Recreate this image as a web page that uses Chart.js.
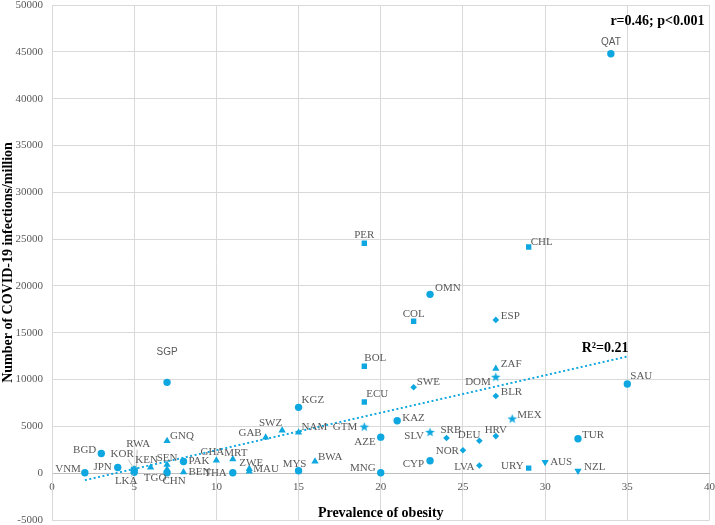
<!DOCTYPE html>
<html lang="en">
<head>
<meta charset="UTF-8">
<title>Obesity and COVID-19</title>
<script src="https://cdn.jsdelivr.net/npm/chart.js"></script>
<style>
  html, body { margin: 0; padding: 0; background: #fff; }
  #wrap { width: 715px; height: 525px; }
</style>
</head>
<body>
<div id="wrap"><canvas id="myChart"></canvas></div>
<script>
// values
const codes   = ['VNM','BGD','JPN','KOR','LKA','CHN','PAK','THA','SGP','MYS','KGZ','AZE','MNG','KAZ','CYP','OMN','QAT','SAU','TUR',
                 'RWA','GNQ','KEN','SEN','TGO','BEN','GHA','MRT','ZWE','MAU','GAB','SWZ','NAM','BWA','ZAF',
                 'PER','CHL','COL','BOL','ECU','URY',
                 'SWE','ESP','BLR','SRB','NOR','DEU','HRV','LVA',
                 'GTM','SLV','DOM','MEX',
                 'AUS','NZL'];
const obesity = [2,3,4,5,5,7,8,11,7,15,15,20,20,21,23,23,34,35,32,
                 5,7,6,7,7,8,10,11,12,12,13,14,15,16,27,
                 19,29,22,19,19,29,
                 22,27,27,24,25,26,27,26,
                 19,23,27,28,
                 30,32];
const cases   = [50,2100,600,400,100,50,1250,50,9700,260,7030,3850,50,5600,1330,19100,44800,9520,3680,
                 250,3450,610,900,400,100,1360,1500,470,180,3820,4570,4350,1250,11170,
                 24550,24150,16230,11420,7600,540,
                 9170,16370,8240,3750,2450,3470,3960,820,
                 4920,4350,10240,5780,
                 1180,260];
const region  = ['as','as','as','as','as','as','as','as','as','as','as','as','as','as','as','as','as','as','as',
                 'af','af','af','af','af','af','af','af','af','af','af','af','af','af','af',
                 'sa','sa','sa','sa','sa','sa',
                 'eu','eu','eu','eu','eu','eu','eu','eu',
                 'ca','ca','ca','ca',
                 'oc','oc'];
const trendX = [2, 35];
const trendY = [-740, 12460];

const blue = '#0ea7e0';

// filled five point star for the Central America markers
const star = document.createElement('canvas');
star.width = 11; star.height = 11;
(function () {
  const c = star.getContext('2d');
  c.fillStyle = blue;
  c.beginPath();
  for (let i = 0; i < 10; i++) {
    const r = i % 2 ? 2.1 : 5;
    const a = -Math.PI / 2 + i * Math.PI / 5;
    c.lineTo(5.5 + r * Math.cos(a), 5.5 + r * Math.sin(a));
  }
  c.closePath();
  c.fill();
})();

const markers = {
  as: { pointStyle: 'circle', radius: 3.7, rotation: 0 },
  af: { pointStyle: 'triangle', radius: 4.2, rotation: 0 },
  sa: { pointStyle: 'rect', radius: 3.8, rotation: 0 },
  eu: { pointStyle: 'rectRot', radius: 3.3, rotation: 0 },
  ca: { pointStyle: star, radius: 5, rotation: 0 },
  oc: { pointStyle: 'triangle', radius: 4.2, rotation: 180 }
};

// where each country label sits next to its marker: [align, dx, dy]
const labelPlace = {
  QAT:['center',0,-11], PER:['center',0,-8], CHL:['left',2,-5], OMN:['left',5,-6], COL:['center',0,-7],
  ESP:['left',5,-4], BOL:['left',0,-8], SWE:['left',3,-5], ZAF:['left',5,-4], DOM:['right',-5,5],
  BLR:['left',5,-4], SAU:['left',3,-8], MEX:['left',5,-4], SRB:['left',-6,-8], DEU:['right',1,-6],
  HRV:['center',0,-6], NOR:['right',-4,1], TUR:['left',4,-4], LVA:['right',-5,2], URY:['right',-5,-2],
  AUS:['left',5,0], NZL:['left',6,-4], CYP:['right',-6,3], SLV:['right',-6,4], KAZ:['left',5,-3],
  GTM:['right',-7,0], AZE:['right',-5,5], MNG:['right',-5,-5], ECU:['left',2,-8], KGZ:['left',3,-7],
  SWZ:['right',0,-7], NAM:['left',3,-5], BWA:['left',3,-4], MYS:['center',-4,-7], GAB:['right',-4,-4],
  ZWE:['center',2,-6], MAU:['left',4,-2], THA:['right',-6,0], MRT:['center',3,-6], GHA:['center',-4,-8],
  BEN:['left',5,0], PAK:['left',5,0], GNQ:['left',3,-5], SEN:['center',0,-7], KEN:['center',-4,-7],
  CHN:['center',7,8], TGO:['center',-12,9], LKA:['center',-8,9], KOR:['center',-12,-15], RWA:['center',4,-27],
  JPN:['right',-6,0], BGD:['right',-5,-3], VNM:['right',-4,-4], SGP:['center',0,-30]
};
const sansLabels = ['QAT', 'SGP'];
const leaders = { KOR: [-6,-10,-1,-2], RWA: [3,-21,2,-3], LKA: [-3,5,-1,2] };

const groups = ['as','af','sa','eu','ca','oc'];
const datasets = groups.map(g => {
  const pts = [];
  codes.forEach((c, i) => {
    if (region[i] === g) pts.push({ x: obesity[i], y: cases[i], code: c });
  });
  return {
    type: 'scatter',
    data: pts,
    backgroundColor: blue,
    borderColor: blue,
    borderWidth: 0,
    pointStyle: markers[g].pointStyle,
    pointRadius: markers[g].radius,
    rotation: markers[g].rotation,
    order: 1
  };
});
datasets.push({
  type: 'line',
  data: trendX.map((x, i) => ({ x: x, y: trendY[i] })),
  borderColor: blue,
  borderWidth: 2,
  borderDash: [2, 2.5],
  pointRadius: 0,
  fill: false,
  order: 2
});

const labelPlugin = {
  id: 'countryLabels',
  afterDatasetsDraw(chart) {
    const ctx = chart.ctx;
    ctx.save();
    ctx.textBaseline = 'middle';
    groups.forEach((g, di) => {
      const meta = chart.getDatasetMeta(di);
      meta.data.forEach((el, j) => {
        const code = chart.data.datasets[di].data[j].code;
        const p = labelPlace[code] || ['left', 5, -4];
        ctx.font = sansLabels.includes(code) ? '10px "Liberation Sans"' : '11px "Liberation Serif"';
        ctx.fillStyle = '#595959';
        ctx.textAlign = p[0];
        ctx.fillText(code, el.x + p[1], el.y + p[2]);
        const l = leaders[code];
        if (l) {
          ctx.strokeStyle = '#bfbfbf';
          ctx.lineWidth = 1;
          ctx.beginPath();
          ctx.moveTo(el.x + l[0], el.y + l[1]);
          ctx.lineTo(el.x + l[2], el.y + l[3]);
          ctx.stroke();
        }
      });
    });
    // statistics text
    const a = chart.chartArea;
    ctx.fillStyle = '#000';
    ctx.font = 'bold 14px "Liberation Serif"';
    ctx.textAlign = 'right';
    ctx.fillText('r=0.46; p<0.001', a.right - 5, a.top + 16);
    ctx.fillText('R\u00b2=0.21', a.right - 81, a.top + 343);
    ctx.restore();
  }
};

new Chart(document.getElementById('myChart'), {
  data: { datasets: datasets },
  plugins: [labelPlugin],
  options: {
    responsive: true,
    maintainAspectRatio: false,
    animation: false,
    events: [],
    layout: { padding: { top: 0, right: 0, bottom: 0, left: 0 } },
    plugins: { legend: { display: false }, tooltip: { enabled: false } },
    scales: {
      x: {
        type: 'linear',
        position: { y: 0 },
        min: 0, max: 40,
        ticks: { stepSize: 5, padding: 7, color: '#595959', font: { family: 'Liberation Serif', size: 11 } },
        grid: { color: '#d9d9d9', drawTicks: false },
        border: { color: '#bfbfbf' },
        title: { display: true, text: 'Prevalence of obesity', color: '#000', padding: { top: 5, bottom: 4 },
                 font: { family: 'Liberation Serif', size: 14, weight: 'bold' } },
        afterFit(s) {
          s.paddingLeft = 0;
          s.paddingRight = 5.5;
        }
      },
      y: {
        type: 'linear',
        min: -5000, max: 50000,
        ticks: { stepSize: 5000, padding: 9, color: '#595959', font: { family: 'Liberation Serif', size: 11 },
                 callback: v => String(v) },
        grid: { color: '#d9d9d9', drawTicks: false },
        border: { color: '#d9d9d9' },
        title: { display: true, text: 'Number of COVID-19 infections/million', color: '#000', padding: { top: 0, bottom: 0 },
                 font: { family: 'Liberation Serif', size: 14, weight: 'bold' } },
        afterFit(s) {
          s.width = 52;
          s.paddingTop = 4;
          s.paddingBottom = 5;
        }
      }
    }
  }
});
</script>
</body>
</html>
